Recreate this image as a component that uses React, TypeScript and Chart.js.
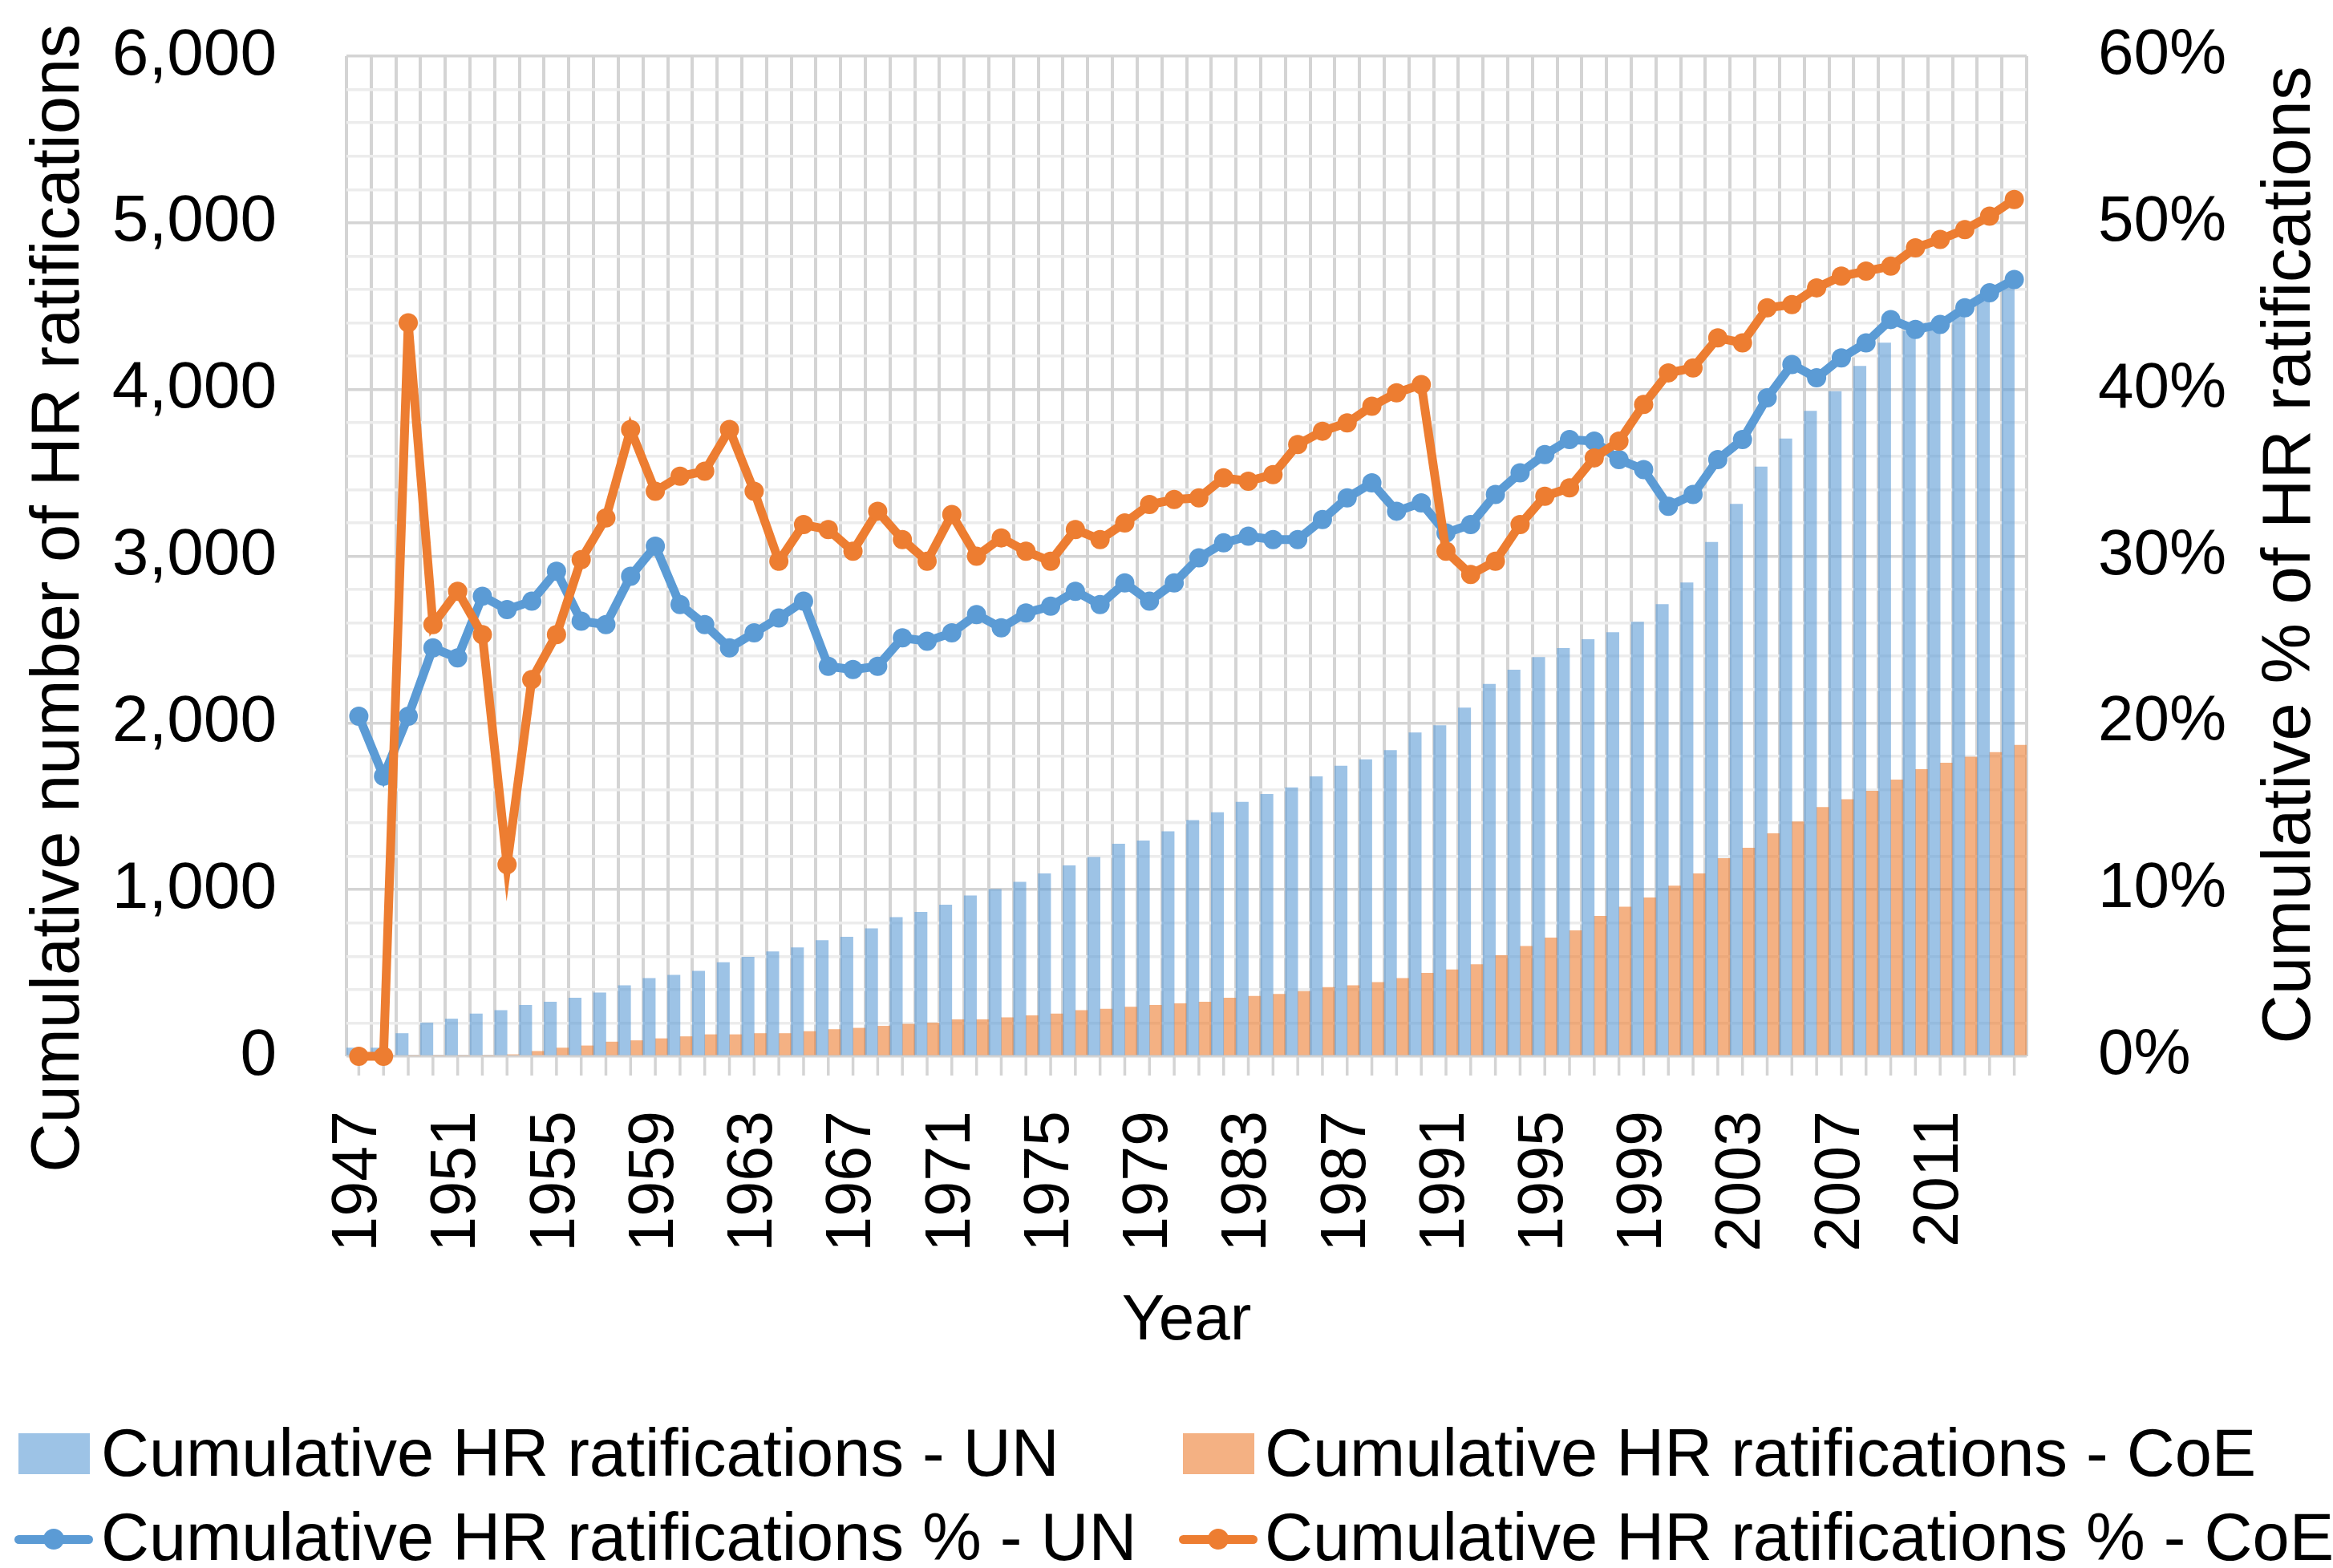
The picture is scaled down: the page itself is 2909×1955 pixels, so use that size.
import React, { useEffect, useRef } from 'react';
import { Chart, registerables } from 'chart.js';

Chart.register(...registerables);

const years = [
  '1947', '1948', '1949', '1950', '1951', '1952', '1953', '1954', '1955', '1956',
  '1957', '1958', '1959', '1960', '1961', '1962', '1963', '1964', '1965', '1966',
  '1967', '1968', '1969', '1970', '1971', '1972', '1973', '1974', '1975', '1976',
  '1977', '1978', '1979', '1980', '1981', '1982', '1983', '1984', '1985', '1986',
  '1987', '1988', '1989', '1990', '1991', '1992', '1993', '1994', '1995', '1996',
  '1997', '1998', '1999', '2000', '2001', '2002', '2003', '2004', '2005', '2006',
  '2007', '2008', '2009', '2010', '2011', '2012', '2013', '2014',
];

const unCounts = [
  50, 50, 137, 200, 224, 255, 275, 306, 326, 350,
  381, 424, 468, 487, 511, 562, 595, 627, 652, 695,
  715, 766, 833, 864, 908, 963, 1002, 1045, 1096, 1143,
  1194, 1273, 1293, 1348, 1416, 1462, 1525, 1572, 1611, 1678,
  1741, 1780, 1835, 1941, 1984, 2090, 2232, 2318, 2393, 2448,
  2500, 2542, 2605, 2711, 2841, 3084, 3312, 3536, 3705, 3870,
  3988, 4140, 4280, 4350, 4390, 4450, 4530, 4625,
];

const coeCounts = [
  0, 0, 0, 0, 0, 0, 10, 30, 50, 63,
  86, 94, 106, 118, 130, 130, 137, 137, 149, 161,
  169, 181, 193, 200, 220, 220, 232, 244, 255, 275,
  283, 295, 306, 316, 326, 350, 361, 373, 389, 413,
  424, 444, 468, 499, 519, 550, 605, 660, 711, 754,
  841, 896, 951, 1022, 1096, 1187, 1250, 1336, 1407, 1493,
  1540, 1591, 1658, 1721, 1760, 1796, 1823, 1866,
];

const unPct = [
  20.4, 16.8, 20.4, 24.5, 23.9, 27.6, 26.8, 27.3, 29.1, 26.1,
  25.9, 28.8, 30.6, 27.1, 25.9, 24.5, 25.4, 26.3, 27.3, 23.4,
  23.2, 23.4, 25.1, 24.9, 25.4, 26.5, 25.7, 26.6, 27.0, 27.9,
  27.1, 28.4, 27.3, 28.4, 29.9, 30.8, 31.2, 31.0, 31.0, 32.2,
  33.5, 34.4, 32.7, 33.2, 31.4, 31.9, 33.7, 35.0, 36.1, 37.0,
  36.9, 35.8, 35.2, 33.0, 33.7, 35.8, 37.0, 39.5, 41.5, 40.7,
  41.9, 42.8, 44.2, 43.6, 43.9, 44.9, 45.8, 46.6,
];

const coePct = [
  0, 0, 44.0, 25.9, 27.9, 25.3, 11.5, 22.6, 25.3, 29.8,
  32.3, 37.6, 33.9, 34.8, 35.1, 37.6, 33.9, 29.7, 31.9, 31.6,
  30.3, 32.7, 31.0, 29.7, 32.5, 30.0, 31.1, 30.3, 29.7, 31.6,
  31.0, 32.0, 33.1, 33.4, 33.5, 34.7, 34.5, 34.9, 36.7, 37.5,
  38.0, 39.0, 39.8, 40.3, 30.3, 28.9, 29.7, 31.9, 33.6, 34.1,
  35.9, 36.9, 39.1, 41.0, 41.3, 43.1, 42.8, 44.9, 45.1, 46.1,
  46.8, 47.1, 47.4, 48.5, 49.0, 49.6, 50.4, 51.4,
];

const seriesLabels = [
  'Cumulative HR ratifications - UN',
  'Cumulative HR ratifications - CoE',
  'Cumulative HR ratifications % - UN',
  'Cumulative HR ratifications % - CoE',
];

const leftTitle = 'Cumulative number of HR ratifications';
const rightTitle = 'Cumulative % of HR ratifications';
const xTitle = 'Year';

const FONT = "'Liberation Sans', Arial, Helvetica, sans-serif";
const W = 2909;
const CH = 1740;
const PLOT_L = 432;
const PLOT_R = 2527;
const PLOT_T = 70;
const PLOT_B = 1317;

const BLUE = '#5B9BD5';
const ORANGE = '#ED7D31';
const BLUE_BAR = 'rgba(91,155,213,0.6)';
const ORANGE_BAR = 'rgba(237,125,49,0.6)';
const GRID_MAJOR = '#d4d4d4';
const GRID_MINOR = '#ececec';

const decorPlugin = {
  id: 'decor',
  beforeDatasetsDraw(chart: any) {
    const ctx = chart.ctx;
    const xs = chart.scales.x;
    const a = chart.chartArea;
    ctx.save();
    ctx.strokeStyle = GRID_MAJOR;
    ctx.lineWidth = 3.5;
    for (let i = 0; i < years.length; i++) {
      const px = xs.getPixelForValue(i);
      ctx.beginPath();
      ctx.moveTo(px, a.bottom);
      ctx.lineTo(px, a.bottom + 24);
      ctx.stroke();
    }
    ctx.restore();
  },
  afterDraw(chart: any) {
    const ctx = chart.ctx;
    const a = chart.chartArea;
    ctx.save();
    ctx.fillStyle = '#000';
    ctx.textAlign = 'center';
    ctx.textBaseline = 'alphabetic';
    ctx.font = `85px ${FONT}`;
    ctx.save();
    ctx.translate(98, 746);
    ctx.rotate(-Math.PI / 2);
    ctx.fillText(leftTitle, 0, 0);
    ctx.restore();
    ctx.save();
    ctx.translate(2880, 692);
    ctx.rotate(-Math.PI / 2);
    ctx.fillText(rightTitle, 0, 0);
    ctx.restore();
    ctx.font = `80px ${FONT}`;
    ctx.fillText(xTitle, (a.left + a.right) / 2, 1670);
    ctx.restore();
  },
};

export default function App() {
  const ref = useRef<HTMLCanvasElement | null>(null);

  useEffect(() => {
    if (!ref.current) return;
    const chart = new Chart(ref.current, {
      type: 'bar',
      data: {
        labels: years,
        datasets: [
          {
            type: 'bar',
            label: seriesLabels[0],
            data: unCounts,
            yAxisID: 'y',
            backgroundColor: BLUE_BAR,
            borderWidth: 0,
            barPercentage: 1,
            categoryPercentage: 1,
            order: 3,
          },
          {
            type: 'bar',
            label: seriesLabels[1],
            data: coeCounts,
            yAxisID: 'y',
            backgroundColor: ORANGE_BAR,
            borderWidth: 0,
            barPercentage: 1,
            categoryPercentage: 1,
            order: 4,
          },
          {
            type: 'line',
            label: seriesLabels[2],
            data: unPct,
            yAxisID: 'y1',
            borderColor: BLUE,
            backgroundColor: BLUE,
            pointBackgroundColor: BLUE,
            pointBorderColor: BLUE,
            borderWidth: 11,
            pointRadius: 12,
            pointBorderWidth: 0,
            tension: 0,
            clip: false,
            order: 2,
          },
          {
            type: 'line',
            label: seriesLabels[3],
            data: coePct,
            yAxisID: 'y1',
            borderColor: ORANGE,
            backgroundColor: ORANGE,
            pointBackgroundColor: ORANGE,
            pointBorderColor: ORANGE,
            borderWidth: 11,
            pointRadius: 12,
            pointBorderWidth: 0,
            tension: 0,
            clip: false,
            order: 1,
          },
        ] as any,
      },
      options: {
        responsive: false,
        animation: false,
        devicePixelRatio: 1,
        layout: { autoPadding: false, padding: { top: PLOT_T, left: 0, right: 0, bottom: 0 } },
        plugins: {
          legend: { display: false },
          tooltip: { enabled: false },
          title: { display: false },
        },
        scales: {
          x: {
            type: 'category',
            offset: true,
            grid: { offset: true, color: GRID_MAJOR, lineWidth: 4, drawTicks: false },
            border: { display: false },
            ticks: {
              autoSkip: false,
              maxRotation: 90,
              minRotation: 90,
              padding: 68,
              color: '#000',
              font: { family: FONT, size: 79 },
              callback: (_v: any, i: number) => (i % 4 === 0 ? years[i] : ''),
            },
            afterFit: (s: any) => {
              s.height = CH - PLOT_B;
              s.paddingLeft = 0;
              s.paddingRight = 0;
            },
          },
          y: {
            type: 'linear',
            position: 'left',
            min: 0,
            max: 6000,
            grid: {
              color: (c: any) => (c.tick && c.tick.value % 1000 === 0 ? GRID_MAJOR : GRID_MINOR),
              lineWidth: 3.5,
              drawTicks: false,
            },
            border: { display: false },
            ticks: {
              stepSize: 200,
              autoSkip: false,
              padding: 87,
              color: '#000',
              font: { family: FONT, size: 82 },
              callback: (v: any) => (Number(v) % 1000 === 0 ? Number(v).toLocaleString('en-US') : ''),
            },
            afterFit: (s: any) => {
              s.width = PLOT_L;
              s.paddingTop = 0;
              s.paddingBottom = 0;
            },
          },
          y1: {
            type: 'linear',
            position: 'right',
            min: 0,
            max: 60,
            grid: { display: false, drawTicks: false },
            border: { display: false },
            ticks: {
              stepSize: 10,
              autoSkip: false,
              padding: 89,
              color: '#000',
              font: { family: FONT, size: 80 },
              callback: (v: any) => `${v}%`,
            },
            afterFit: (s: any) => {
              s.width = W - PLOT_R;
              s.paddingTop = 0;
              s.paddingBottom = 0;
            },
          },
        },
      } as any,
      plugins: [decorPlugin],
    });
    return () => chart.destroy();
  }, []);

  const textStyle: React.CSSProperties = {
    position: 'absolute',
    fontFamily: FONT,
    fontSize: 83,
    lineHeight: 1,
    color: '#000',
    whiteSpace: 'nowrap',
  };

  const colSym = [23, 1475];
  const colText = [126, 1577];
  const rowTextTop = [1770, 1875];
  const lineColors = [BLUE, ORANGE];
  const boxColors = ['#9DC3E6', '#F4B183'];

  return (
    <div style={{ position: 'absolute', left: 0, top: 0, width: W, height: 1955, background: '#fff', overflow: 'hidden' }}>
      <canvas ref={ref} width={W} height={CH} style={{ display: 'block', width: W, height: CH }} />
      {[0, 1].map((c) => (
        <React.Fragment key={'r1' + c}>
          <div style={{ position: 'absolute', left: colSym[c], top: 1787, width: 89, height: 51, background: boxColors[c] }} />
          <div style={{ ...textStyle, left: colText[c], top: rowTextTop[0] }}>{seriesLabels[c]}</div>
        </React.Fragment>
      ))}
      {[0, 1].map((c) => (
        <React.Fragment key={'r2' + c}>
          <div style={{ position: 'absolute', left: colSym[c] - 5, top: 1919 - 5.5, width: 98, height: 11, borderRadius: 6, background: lineColors[c] }} />
          <div style={{ position: 'absolute', left: colSym[c] - 5 + 49 - 13, top: 1919 - 13, width: 26, height: 26, borderRadius: 13, background: lineColors[c] }} />
          <div style={{ ...textStyle, left: colText[c], top: rowTextTop[1] }}>{seriesLabels[c + 2]}</div>
        </React.Fragment>
      ))}
    </div>
  );
}
